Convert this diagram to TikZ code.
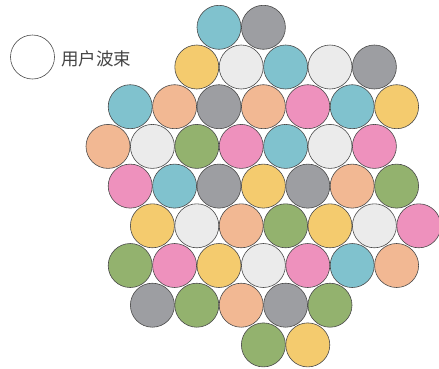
\documentclass[tikz,border=0pt]{standalone}
\usepackage{fontspec}
\usepackage{xcolor}
\usepackage{tikz}
\usetikzlibrary{positioning}
\newfontfamily\cjkfont{Noto Sans CJK SC}
\definecolor{bmCyan}{HTML}{80C2CE}
\definecolor{bmGray}{HTML}{9D9EA2}
\definecolor{bmWhite}{HTML}{EBEBEB}
\definecolor{bmYellow}{HTML}{F4CB6E}
\definecolor{bmPeach}{HTML}{F2B893}
\definecolor{bmPink}{HTML}{EE91BD}
\definecolor{bmGreen}{HTML}{93B26E}
\definecolor{bmEdge}{HTML}{4A4A4A}
\definecolor{bmInk}{HTML}{444444}
\tikzset{
  bm diagram/.style={x=1pt, y=-1pt, line cap=round, line join=round},
  bm beam/.style={circle, draw=bmEdge, line width=0.6pt,
    minimum size=44pt, inner sep=0pt},
  bm label/.style={font=\cjkfont\fontsize{17.5}{17.5}\selectfont, text=bmInk,
    inner sep=0pt}
}
\begin{document}
\begin{tikzpicture}[bm diagram]
\useasboundingbox (0,0) rectangle (439,368);
% legend
\node[bm beam, fill=white] (legend) at (32.5,57) {};
\node[bm label, anchor=west] (legend text) at (61,58.5) {用户波束};
% hexagonal beam grid, row / first column / colours
\foreach \row/\start/\cols in {
    0/2/{Cyan,Gray},
    1/2/{Yellow,White,Cyan,White,Gray},
    2/0/{Cyan,Peach,Gray,Peach,Pink,Cyan,Yellow},
    3/0/{Peach,White,Green,Pink,Cyan,White,Pink},
    4/0/{Pink,Cyan,Gray,Yellow,Gray,Peach,Green},
    5/1/{Yellow,White,Peach,Green,Yellow,White,Pink},
    6/0/{Green,Pink,Yellow,White,Pink,Cyan,Peach},
    7/1/{Gray,Green,Peach,Gray,Green},
    8/3/{Green,Yellow}} {
  \pgfmathsetmacro\xs{mod(\row,2)==0 ? 130.2 : 108}
  \foreach \c [count=\i from \start] in \cols
    \node[bm beam, fill=bm\c] (b\row-\i) at ({\xs+44.4*\i},{27.3+39.7*\row}) {};
}
\end{tikzpicture}
\end{document}
